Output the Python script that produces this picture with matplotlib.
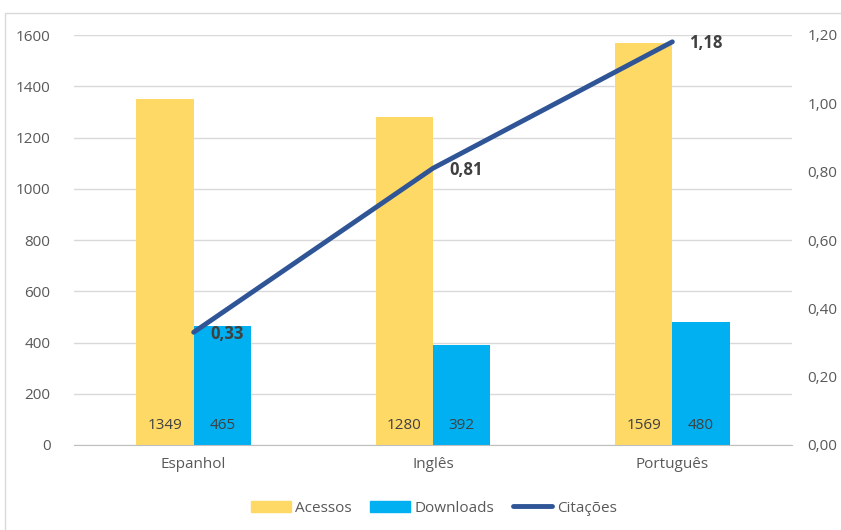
import matplotlib
matplotlib.use("Agg")
import matplotlib.pyplot as plt
import numpy as np
from matplotlib.patches import Rectangle
from matplotlib.lines import Line2D
from matplotlib.patches import Patch

categories = ["Espanhol", "Inglês", "Português"]
acessos = [1349, 1280, 1569]
downloads = [465, 392, 480]
citacoes = [0.33, 0.81, 1.18]
left_ticks = [0, 200, 400, 600, 800, 1000, 1200, 1400, 1600]
right_ticks = [0.0, 0.2, 0.4, 0.6, 0.8, 1.0, 1.2]

plt.rcParams['font.family'] = ['Open Sans', 'DejaVu Sans']
txt = '#595959'
c_acc = '#FFD966'
c_dl = '#00B0F0'
c_line = '#2F5597'

W, H = 841, 530
fig = plt.figure(figsize=(W/100, H/100), dpi=100)
fig.patches.append(Rectangle((5/W, -0.1), 1.2, 1 - 13/H + 0.1, transform=fig.transFigure,
                             fill=False, edgecolor='#D9D9D9', linewidth=1))
ax = fig.add_axes([74/W, 1-445/H, (792-74)/W, (445-35)/H])
x = np.arange(len(categories))
bw = 0.24
ax.bar(x - bw/2, acessos, bw, color=c_acc, zorder=2)
ax.bar(x + bw/2, downloads, bw, color=c_dl, zorder=2)
for i in range(len(categories)):
    ax.annotate(str(acessos[i]), (x[i] - bw/2, 0), xytext=(0, 14), textcoords='offset points',
                ha='center', va='center', fontsize=11, color='#404040', zorder=3)
    ax.annotate(str(downloads[i]), (x[i] + bw/2, 0), xytext=(0, 14), textcoords='offset points',
                ha='center', va='center', fontsize=11, color='#404040', zorder=3)
ax.set_xlim(-0.5, 2.5)
ax.set_ylim(0, 1600)
ax.set_yticks(left_ticks)
ax.set_yticklabels([str(t) for t in left_ticks])
ax.set_xticks(x)
ax.set_xticklabels(categories)
ax.grid(axis='y', color='#D9D9D9', linewidth=1, zorder=0)
ax.set_axisbelow(True)
for s in ['top', 'right', 'left']:
    ax.spines[s].set_visible(False)
ax.spines['bottom'].set_color('#BFBFBF')
ax.tick_params(axis='both', length=0, colors=txt, labelsize=11)
ax.tick_params(axis='y', pad=17)
ax.tick_params(axis='x', pad=9)

ax2 = ax.twinx()
ax2.set_ylim(0, 1.2)
ax2.set_yticks(right_ticks)
ax2.set_yticklabels([f"{t:.2f}".replace('.', ',') for t in right_ticks])
for s in ['top', 'right', 'left', 'bottom']:
    ax2.spines[s].set_visible(False)
ax2.tick_params(axis='y', length=0, colors=txt, labelsize=11, pad=11)
ax2.plot(x, citacoes, color=c_line, linewidth=3.5, solid_capstyle='round', zorder=5)
for i in range(len(categories)):
    ax2.annotate(f"{citacoes[i]:.2f}".replace('.', ','), (x[i], citacoes[i]), xytext=(12, -1),
                 textcoords='offset points', ha='left', va='center', fontsize=12,
                 fontweight='bold', color='#404040', zorder=6)

handles = [Patch(color=c_acc), Patch(color=c_dl), Line2D([0], [0], color=c_line, linewidth=3.5, solid_capstyle='round')]
fig.legend(handles, ["Acessos", "Downloads", "Citações"], loc='center', bbox_to_anchor=(434/W, 1-508/H),
           ncol=3, frameon=False, fontsize=11, labelcolor=txt, handlelength=2.6, handleheight=0.7,
           columnspacing=1.2, handletextpad=0.3)
fig.savefig("out.png", dpi=100)
